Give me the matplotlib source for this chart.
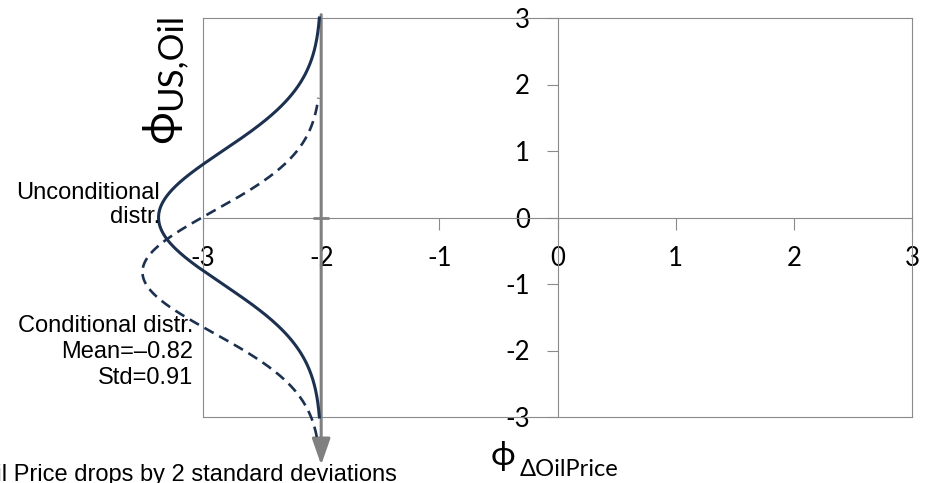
import numpy as np
import matplotlib.pyplot as plt

plt.rcParams["axes.unicode_minus"] = False

# axis ticks (standardised units)
X_TICKS = [-3, -2, -1, 0, 1, 2, 3]
Y_TICKS = [-3, -2, -1, 0, 1, 2, 3]

# oil price shock: drop of 2 standard deviations
SHOCK = -2.0

# unconditional and conditional distribution of phi_US,Oil
UNCOND_MEAN, UNCOND_STD = 0.0, 1.0
COND_MEAN, COND_STD = -0.82, 0.91
UNCOND_RANGE = (-3.0, 3.0)
COND_RANGE = (-3.3, 1.8)

DENSITY_SCALE = 3.45
NAVY = "#1c3150"
GRAY = "#8a8a8a"
W, H = 925, 483


def normal_pdf(y, mu, sd):
    return np.exp(-0.5 * ((y - mu) / sd) ** 2) / (sd * np.sqrt(2 * np.pi))


def fx(px):
    return px / W


def fy(py):
    return 1 - py / H


fig = plt.figure(figsize=(W / 100, H / 100), dpi=100)
ax = fig.add_axes([fx(203), fy(417), 709 / W, 399 / H])
ax.set_xlim(-3, 3)
ax.set_ylim(-3, 3)

# axes cross at the origin, box around the plot area
for side in ["left", "bottom"]:
    ax.spines[side].set_position(("data", 0))
for sp in ax.spines.values():
    sp.set_color(GRAY)
    sp.set_linewidth(0.8)
ax.axvline(-3, color=GRAY, lw=0.8, clip_on=False)
ax.axhline(-3, color=GRAY, lw=0.8, clip_on=False)

ax.set_xticks(X_TICKS)
ax.set_yticks(Y_TICKS)
ax.set_xticklabels([str(t) for t in X_TICKS], family="Lato", fontsize=18.5)
ax.set_yticklabels([str(t) for t in Y_TICKS], family="Lato", fontsize=18.5)
ax.tick_params(axis="x", direction="out", length=8.6, width=0.8, color=GRAY, pad=12)
ax.tick_params(axis="y", direction="out", length=8, width=0.8, color=GRAY, pad=12)

# distributions drawn sideways from the shock line
ys_u = np.linspace(*UNCOND_RANGE, 400)
ax.plot(SHOCK - DENSITY_SCALE * normal_pdf(ys_u, UNCOND_MEAN, UNCOND_STD), ys_u,
        color=NAVY, lw=2.2, clip_on=False, zorder=4)
ys_c = np.linspace(*COND_RANGE, 400)
ax.plot(SHOCK - DENSITY_SCALE * normal_pdf(ys_c, COND_MEAN, COND_STD), ys_c,
        color=NAVY, lw=1.9, linestyle=(0, (4, 2.4)), clip_on=False, zorder=4)

# shock arrow
ax.annotate("", xy=(SHOCK, -3.72), xytext=(SHOCK, 3.05), annotation_clip=False,
            arrowprops=dict(arrowstyle="-|>,head_length=0.8,head_width=0.28",
                            mutation_scale=20, color="#808080", lw=2.2,
                            shrinkA=0, shrinkB=0), zorder=3)
ax.plot(SHOCK, 0, marker="_", ms=12, mew=2, color="#808080", zorder=3)

# annotations
txt = dict(family="Liberation Sans", fontsize=17, color="black")
fig.text(fx(160), fy(205), "Unconditional\ndistr.", ha="right", va="center",
         multialignment="right", linespacing=1.1, **txt)
fig.text(fx(193), fy(352), "Conditional distr.\nMean=\u20130.82\nStd=0.91",
         ha="right", va="center", multialignment="right", linespacing=1.26, **txt)
fig.text(fx(397), fy(481), "Oil Price drops by 2 standard deviations",
         ha="right", va="baseline", **txt)

# axis titles
lab = ["Lato", "DejaVu Sans"]
fig.text(fx(161), fy(127), "\u03d5", rotation=90, ha="center", va="center",
         family=lab, fontsize=32)
fig.text(fx(170), fy(62), "US,Oil", rotation=90, ha="center", va="center",
         family=lab, fontsize=25)
fig.text(fx(503), fy(456), "\u03d5", ha="center", va="center",
         family=lab, fontsize=24)
fig.text(fx(569), fy(469), "\u0394OilPrice", ha="center", va="center",
         family=lab, fontsize=17)

fig.savefig("out.png", dpi=100)
